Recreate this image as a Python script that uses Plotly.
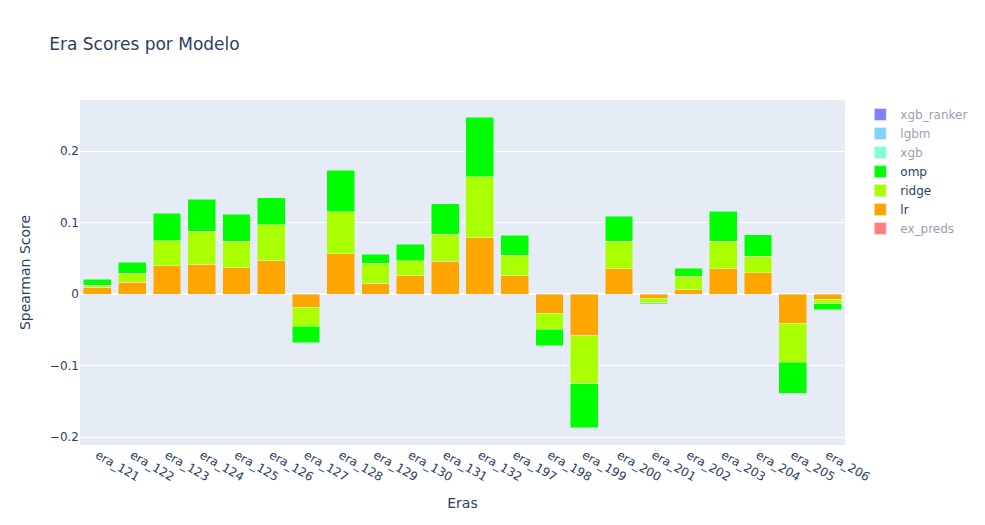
import plotly.graph_objects as go

# Eras on the x axis
eras = ['era_121', 'era_122', 'era_123', 'era_124', 'era_125', 'era_126',
        'era_127', 'era_128', 'era_129', 'era_130', 'era_131', 'era_132',
        'era_197', 'era_198', 'era_199', 'era_200', 'era_201', 'era_202',
        'era_203', 'era_204', 'era_205', 'era_206']

# Spearman score per model
lr = [0.0093, 0.0164, 0.040, 0.042, 0.037, 0.047, -0.0187, 0.0565, 0.015, 0.026, 0.0458,
      0.079, 0.0257, -0.0271, -0.058, 0.0355, -0.006, 0.006, 0.0355, 0.030, -0.041, -0.0075]
ridge = [0.0028, 0.013, 0.035, 0.046, 0.037, 0.050, -0.0266, 0.059, 0.028, 0.021, 0.038,
         0.0855, 0.0285, -0.0224, -0.0673, 0.0383, -0.006, 0.0187, 0.0383, 0.023, -0.054, -0.006]
omp = [0.0084, 0.015, 0.038, 0.045, 0.038, 0.038, -0.0225, 0.058, 0.013, 0.0226, 0.0425,
       0.083, 0.028, -0.0229, -0.0617, 0.035, -0.0015, 0.0112, 0.042, 0.030, -0.0434, -0.0084]

# Hidden series (legend only in the chart, values not visible)
ex_preds = [0.012, 0.018, 0.035, 0.041, 0.036, 0.044, -0.020, 0.052, 0.017, 0.024, 0.040,
            0.071, 0.027, -0.025, -0.055, 0.033, -0.005, 0.008, 0.034, 0.028, -0.038, -0.007]
xgb = [0.010, 0.015, 0.031, 0.038, 0.033, 0.040, -0.018, 0.049, 0.014, 0.022, 0.037,
       0.066, 0.024, -0.022, -0.050, 0.030, -0.004, 0.007, 0.031, 0.026, -0.035, -0.006]
lgbm = [0.011, 0.016, 0.033, 0.039, 0.034, 0.042, -0.019, 0.050, 0.015, 0.023, 0.038,
        0.068, 0.025, -0.023, -0.052, 0.031, -0.005, 0.007, 0.032, 0.027, -0.036, -0.006]
xgb_ranker = [0.009, 0.014, 0.030, 0.036, 0.031, 0.039, -0.017, 0.047, 0.013, 0.021, 0.035,
              0.063, 0.023, -0.021, -0.048, 0.029, -0.004, 0.006, 0.030, 0.025, -0.034, -0.005]

series = [
    ('ex_preds', ex_preds, '#FF0000', 'legendonly'),
    ('lr', lr, '#FFA500', True),
    ('ridge', ridge, '#AAFF00', True),
    ('omp', omp, '#00FF00', True),
    ('xgb', xgb, '#00FFAA', 'legendonly'),
    ('lgbm', lgbm, '#00AAFF', 'legendonly'),
    ('xgb_ranker', xgb_ranker, '#0000FF', 'legendonly'),
]

fig = go.Figure()
for name, vals, color, vis in series:
    fig.add_trace(go.Bar(x=eras, y=vals, name=name, marker_color=color, visible=vis))

fig.update_layout(
    barmode='stack',
    title='Era Scores por Modelo',
    xaxis_title='Eras',
    yaxis_title='Spearman Score',
    font_family='Verdana, DejaVu Sans, sans-serif',
    width=985,
    height=525,
)
fig.update_xaxes(tickangle=30)

# page body has an 8px margin by default; the reference sits at the corner
fig.write_html("out.html", config={'displayModeBar': False},
               post_script="document.body.style.margin='0px';")
